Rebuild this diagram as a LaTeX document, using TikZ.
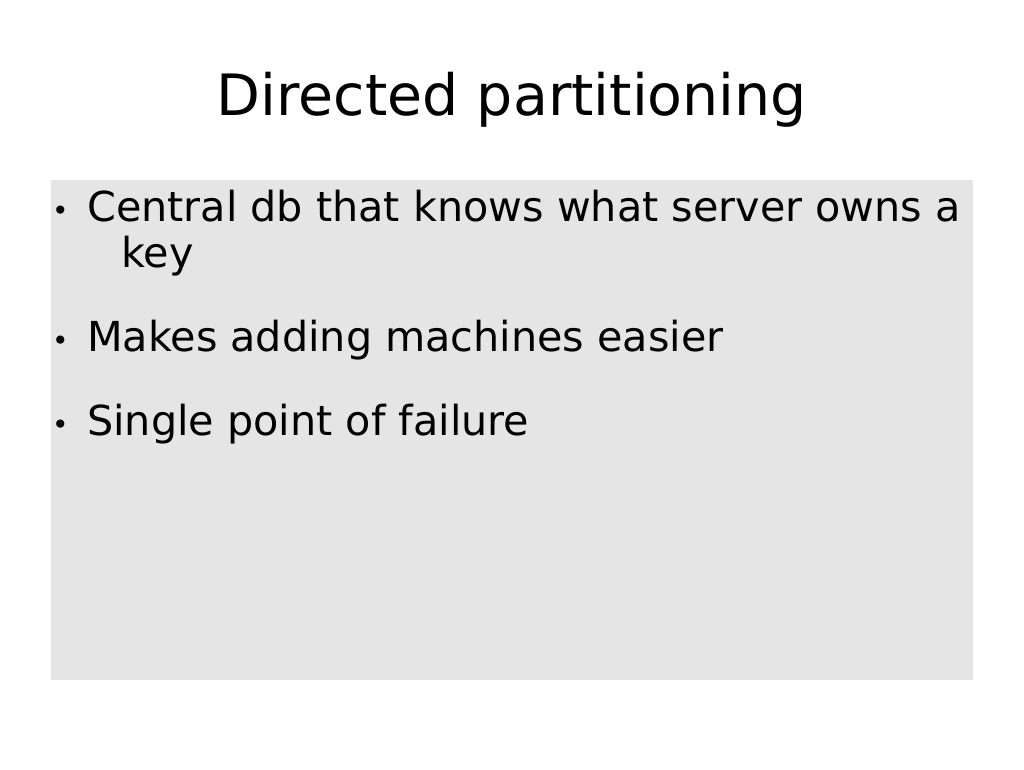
\documentclass[tikz,border=0pt]{standalone}
\usepackage{fontspec}
\setmainfont{DejaVu Sans}
\definecolor{boxgray}{HTML}{E5E5E5}
\begin{document}
\begin{tikzpicture}[x=1pt,y=-1pt,
  body/.style={anchor=base west,inner sep=0pt,font=\fontsize{41.3}{48}\selectfont},
  bul/.style={anchor=base west,inner sep=0pt,font=\fontsize{28}{32}\selectfont}]
\useasboundingbox (0,0) rectangle (1024,770);
\fill[boxgray] (51,180) rectangle (973,680);
\node[anchor=base,inner sep=0pt,font=\fontsize{57}{66}\selectfont] (title) at (512,116) {Directed partitioning};
\node[bul] (b1) at (52,220) {•};
\node[body] (t1) at (87,221) {Central db that knows what server owns a};
\node[body] (t1b) at (121,267) {key};
\node[bul] (b2) at (52,350) {•};
\node[body] (t2) at (87,351) {Makes adding machines easier};
\node[bul] (b3) at (52,434) {•};
\node[body] (t3) at (87,435) {Single point of failure};
\end{tikzpicture}
\end{document}
